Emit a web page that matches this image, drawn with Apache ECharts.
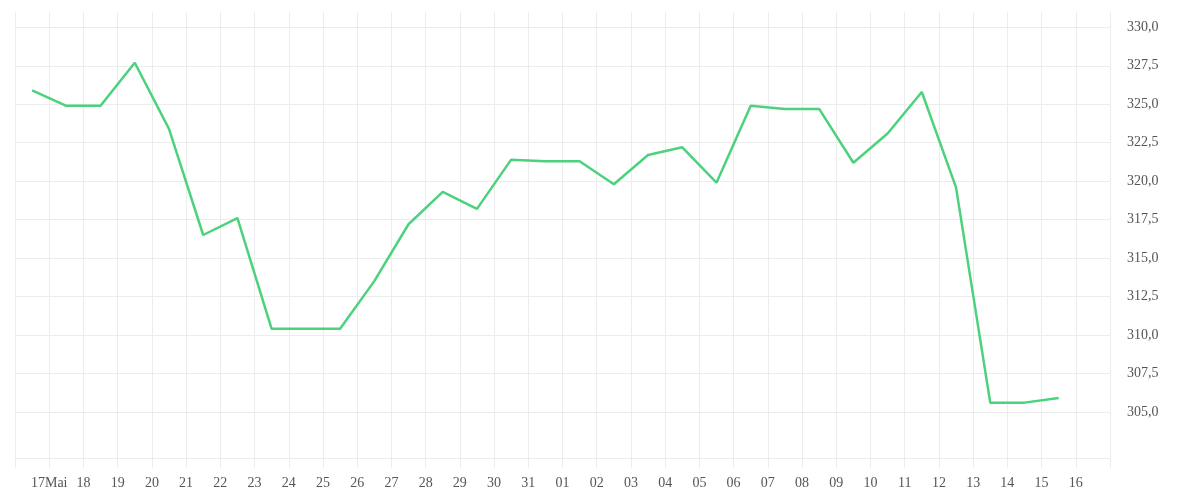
<!DOCTYPE html>
<html>
<head>
<meta charset="utf-8">
<script src="https://cdn.jsdelivr.net/npm/echarts@6/dist/echarts.min.js"></script>
<style>html,body{margin:0;padding:0;background:#fff}#c{width:1200px;height:500px}</style>
</head>
<body>
<div id="c"></div>
<script>
var xLabels = ['17Mai','18','19','20','21','22','23','24','25','26','27','28','29','30','31','01','02','03','04','05','06','07','08','09','10','11','12','13','14','15','16'];
var values = [325.9,324.9,324.9,327.7,323.4,316.5,317.6,310.4,310.4,310.4,313.5,317.2,319.3,318.2,321.4,321.3,321.3,319.8,321.7,322.2,319.9,324.9,324.7,324.7,321.2,323.1,325.8,319.6,305.6,305.6,305.9];
var yTicks = [305,307.5,310,312.5,315,317.5,320,322.5,325,327.5,330];

var seriesData = values.map(function(v,i){ return [i+0.5, v]; });
var gridColor = '#ececec';
var font = "'Liberation Serif', serif";

var chart = echarts.init(document.getElementById('c'), null, {renderer:'canvas'});
chart.setOption({
  animation:false,
  backgroundColor:'#fff',
  grid:{left:15, right:90, top:12, bottom:42, containLabel:false},
  xAxis:{
    type:'value', min:0, max:xLabels.length+1, interval:1,
    axisLine:{show:true, lineStyle:{color:gridColor, width:1}},
    axisTick:{show:true, length:10, lineStyle:{color:gridColor}},
    splitLine:{show:true, lineStyle:{color:gridColor, width:1}},
    axisLabel:{
      margin:18, color:'#555', fontFamily:font, fontSize:14,
      showMinLabel:true, showMaxLabel:true,
      formatter:function(v){ return xLabels[v-1] || ''; }
    }
  },
  yAxis:{
    type:'value', position:'right', min:302, max:331,
    axisLine:{show:true, lineStyle:{color:gridColor, width:1}},
    axisTick:{show:false, customValues:yTicks},
    splitLine:{show:true, lineStyle:{color:gridColor, width:1}},
    axisLabel:{
      customValues:yTicks,
      margin:17, color:'#555', fontFamily:font, fontSize:14,
      formatter:function(v){ return v.toFixed(1).replace('.', ','); }
    }
  },
  series:[{
    type:'line', data:seriesData, showSymbol:false, symbol:'none',
    lineStyle:{color:'#4cd27d', width:2.5},
    itemStyle:{color:'#4cd27d'}
  }]
});
</script>
</body>
</html>
